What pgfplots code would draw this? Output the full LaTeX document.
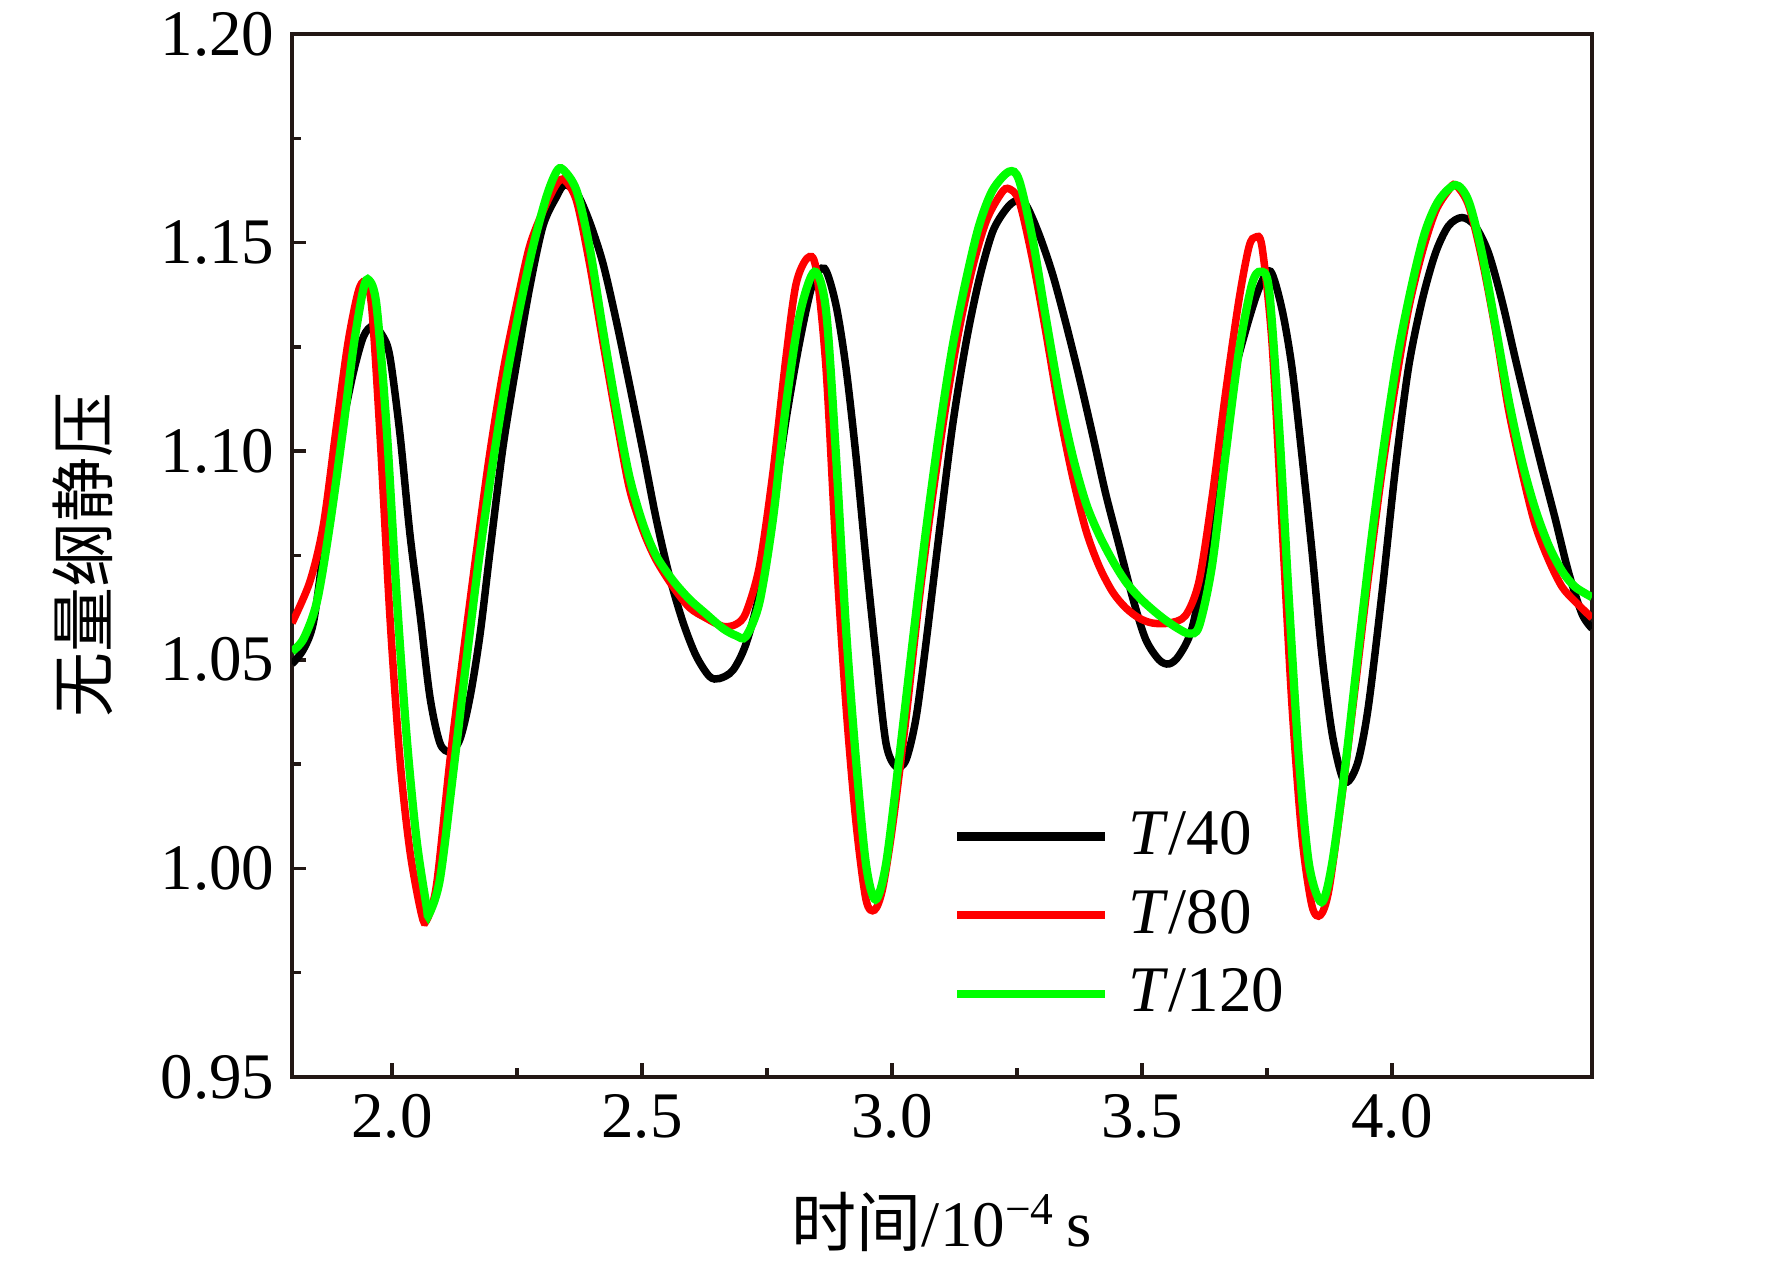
\documentclass[border=0pt]{standalone}
\usepackage{pgfplots}
\pgfplotsset{compat=1.18}
\usepackage{fontspec}
\setmainfont{Liberation Serif}
\newfontfamily\cjk{Noto Sans CJK SC}
\definecolor{axc}{RGB}{35,24,21}
\definecolor{gr}{RGB}{0,255,0}
\definecolor{rd}{RGB}{255,0,0}

\pgfplotstableread{
x y
1.800 1.049
1.823 1.0525
1.843 1.059
1.863 1.0763
1.883 1.095
1.903 1.1075
1.923 1.119
1.943 1.1275
1.962 1.130
1.982 1.1275
1.996 1.1225
2.016 1.104
2.036 1.080
2.056 1.061
2.076 1.041
2.096 1.030
2.116 1.028
2.136 1.031
2.156 1.041
2.176 1.056
2.196 1.076
2.222 1.101
2.249 1.121
2.275 1.139
2.302 1.154
2.329 1.161
2.345 1.1638
2.369 1.162
2.395 1.155
2.422 1.145
2.449 1.131
2.475 1.116
2.502 1.100
2.528 1.084
2.555 1.070
2.582 1.059
2.608 1.051
2.635 1.046
2.655 1.0455
2.682 1.0475
2.708 1.0538
2.735 1.066
2.762 1.086
2.788 1.1075
2.815 1.126
2.841 1.140
2.865 1.1438
2.888 1.135
2.908 1.120
2.928 1.0988
2.948 1.074
2.968 1.051
2.988 1.030
3.008 1.0244
3.028 1.026
3.048 1.036
3.068 1.054
3.095 1.081
3.121 1.106
3.148 1.126
3.174 1.141
3.201 1.1525
3.228 1.158
3.248 1.160
3.268 1.159
3.294 1.152
3.321 1.1425
3.347 1.131
3.374 1.118
3.401 1.104
3.427 1.090
3.454 1.0775
3.481 1.065
3.507 1.055
3.534 1.050
3.554 1.049
3.574 1.051
3.600 1.0575
3.627 1.074
3.654 1.096
3.680 1.116
3.707 1.1288
3.734 1.139
3.757 1.1431
3.780 1.134
3.800 1.120
3.820 1.0988
3.840 1.076
3.860 1.051
3.880 1.0325
3.900 1.022
3.914 1.021
3.933 1.026
3.953 1.039
3.980 1.066
4.007 1.096
4.033 1.120
4.060 1.136
4.087 1.1475
4.113 1.154
4.140 1.156
4.166 1.154
4.193 1.1475
4.220 1.136
4.246 1.1225
4.273 1.109
4.300 1.096
4.326 1.084
4.353 1.071
4.380 1.061
4.400 1.0575
}\tblack

\pgfplotstableread{
x y
1.800 1.0588
1.836 1.0688
1.863 1.0825
1.889 1.106
1.912 1.126
1.932 1.138
1.945 1.1405
1.959 1.135
1.976 1.104
1.996 1.0600
2.016 1.026
2.036 1.004
2.059 0.989
2.069 0.9875
2.089 0.996
2.116 1.026
2.142 1.051
2.169 1.076
2.195 1.099
2.222 1.119
2.249 1.135
2.275 1.149
2.302 1.1575
2.329 1.164
2.345 1.165
2.369 1.160
2.395 1.145
2.422 1.126
2.449 1.1075
2.475 1.091
2.502 1.081
2.528 1.074
2.562 1.0675
2.595 1.0625
2.628 1.060
2.662 1.058
2.688 1.0585
2.708 1.0613
2.735 1.0725
2.762 1.095
2.788 1.1225
2.808 1.140
2.831 1.1463
2.848 1.1438
2.868 1.120
2.888 1.076
2.908 1.039
2.928 1.011
2.948 0.9925
2.965 0.990
2.981 0.995
3.001 1.010
3.028 1.036
3.054 1.064
3.081 1.089
3.108 1.111
3.134 1.129
3.161 1.144
3.188 1.155
3.214 1.161
3.231 1.163
3.254 1.160
3.281 1.146
3.307 1.129
3.334 1.110
3.361 1.094
3.388 1.081
3.414 1.0725
3.441 1.0663
3.467 1.0625
3.494 1.060
3.521 1.0588
3.554 1.0588
3.587 1.0606
3.614 1.0688
3.640 1.0888
3.667 1.1138
3.694 1.1363
3.714 1.149
3.727 1.1513
3.740 1.149
3.760 1.126
3.780 1.0825
3.800 1.039
3.820 1.0075
3.840 0.991
3.857 0.9888
3.874 0.995
3.900 1.0175
3.927 1.044
3.953 1.070
3.980 1.095
4.007 1.116
4.033 1.134
4.060 1.1475
4.087 1.1575
4.113 1.1625
4.127 1.1638
4.153 1.159
4.180 1.146
4.207 1.129
4.233 1.110
4.260 1.095
4.286 1.0825
4.313 1.074
4.340 1.0675
4.366 1.064
4.400 1.060
}\tred

\pgfplotstableread{
x y
1.800 1.052
1.823 1.055
1.850 1.064
1.876 1.0825
1.903 1.106
1.923 1.125
1.943 1.139
1.954 1.141
1.969 1.135
1.989 1.106
2.009 1.066
2.029 1.032
2.049 1.007
2.069 0.991
2.074 0.989
2.096 0.9975
2.122 1.0225
2.149 1.050
2.175 1.075
2.202 1.0975
2.229 1.1175
2.255 1.134
2.282 1.149
2.309 1.161
2.329 1.167
2.342 1.1675
2.369 1.1625
2.395 1.149
2.422 1.129
2.449 1.110
2.475 1.0938
2.502 1.0825
2.528 1.075
2.562 1.069
2.595 1.0645
2.628 1.061
2.662 1.0575
2.688 1.0558
2.708 1.0556
2.735 1.0638
2.762 1.0838
2.788 1.111
2.815 1.1325
2.845 1.143
2.868 1.1338
2.888 1.099
2.908 1.0575
2.928 1.026
2.948 1.001
2.967 0.9925
2.988 1.001
3.014 1.026
3.041 1.054
3.068 1.081
3.095 1.105
3.121 1.125
3.148 1.141
3.174 1.154
3.201 1.1625
3.234 1.167
3.254 1.165
3.281 1.151
3.307 1.1325
3.334 1.114
3.361 1.099
3.388 1.0875
3.414 1.080
3.441 1.0738
3.467 1.0688
3.494 1.0650
3.521 1.0620
3.547 1.0595
3.572 1.0575
3.594 1.0563
3.614 1.0580
3.640 1.0725
3.667 1.099
3.694 1.124
3.720 1.140
3.737 1.143
3.754 1.1388
3.774 1.1063
3.794 1.064
3.814 1.026
3.834 1.001
3.859 0.9919
3.880 1.001
3.907 1.025
3.933 1.0525
3.960 1.080
3.987 1.104
4.013 1.124
4.040 1.140
4.066 1.1525
4.093 1.160
4.127 1.1638
4.153 1.160
4.180 1.1475
4.207 1.130
4.233 1.1125
4.260 1.0975
4.286 1.0863
4.313 1.0775
4.340 1.0713
4.366 1.0675
4.400 1.065
}\tgreen

\begin{document}
\begin{tikzpicture}[font=\fontsize{13}{15.6}\selectfont]
\useasboundingbox (0,0) rectangle (354.4pt,253pt);
\begin{axis}[
  at={(58.4pt,37.6pt)}, anchor=south west,
  scale only axis, width=260pt, height=208.6pt,
  xmin=1.8, xmax=4.4, ymin=0.95, ymax=1.20,
  xtick={2.0,2.5,...,4.0}, ytick={0.95,1.00,...,1.20},
  minor x tick num=1, minor y tick num=1,
  xtick pos=bottom, ytick pos=left, tick align=inside,
  major tick length=2.8pt, minor tick length=1.8pt,
  axis line style={line width=0.8pt, color=axc},
  every tick/.style={line width=0.7pt, color=axc},
  /pgf/number format/assume math mode=true,
  xticklabel style={/pgf/number format/.cd, fixed, fixed zerofill, precision=1},
  yticklabel style={/pgf/number format/.cd, fixed, fixed zerofill, precision=2},
  xlabel={{\cjk 时间}/10\textsuperscript{\char"2212 4}\,s},
  ylabel={{\cjk 无量纲静压}},
  xlabel style={at={(axis description cs:0.5,-0.139)}, anchor=center},
  ylabel style={at={(axis description cs:-0.161,0.5)}, anchor=center},
  legend style={draw=none, fill=none, at={(0.496,0.275)}, anchor=north west,
     font=\fontsize{13}{13}\selectfont, row sep=1.6pt},
  legend cell align=left,
  legend image code/.code={\draw[#1, line width=1.7pt] (0pt,0pt) -- (29.5pt,0pt);
     \node[inner sep=0pt, minimum size=0pt, draw=none, fill=none] at (31.5pt,0pt) {};},
]
\addplot[black, line width=1.5pt, smooth] table {\tblack};
\addlegendentry{\textit{T}/40}
\addplot[rd, line width=1.5pt, smooth] table {\tred};
\addlegendentry{\textit{T}/80}
\addplot[gr, line width=1.65pt, smooth] table {\tgreen};
\addlegendentry{\textit{T}/120}
\end{axis}
\end{tikzpicture}
\end{document}
